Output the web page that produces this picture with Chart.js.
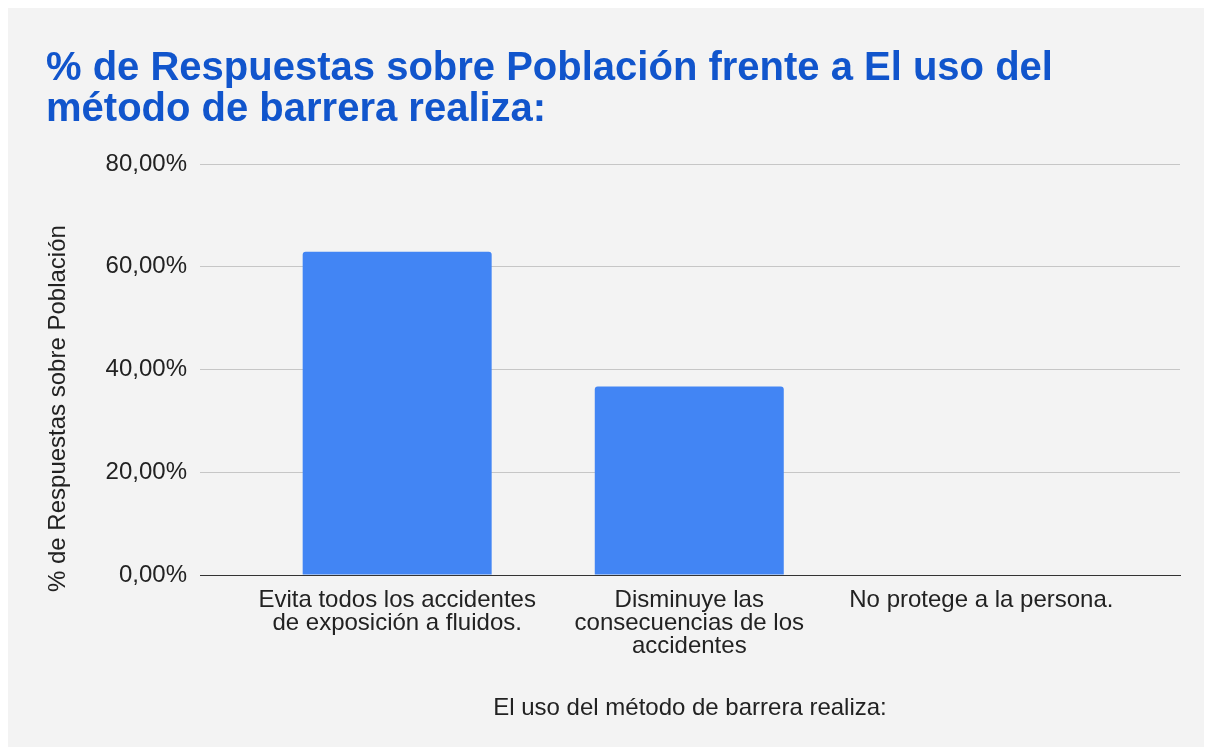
<!DOCTYPE html>
<html>
<head>
<meta charset="utf-8">
<script src="https://cdn.jsdelivr.net/npm/chart.js@4/dist/chart.umd.min.js"></script>
<style>
  html, body { margin: 0; padding: 0; background: #ffffff; }
  #panel { position: absolute; left: 8px; top: 8px; width: 1196px; height: 739px; background: #f3f3f3; }
  #c { position: absolute; left: 0; top: 0; }
</style>
</head>
<body>
<div id="panel"></div>
<canvas id="c" width="1214" height="749"></canvas>
<script>
const titleLines = ["% de Respuestas sobre Población frente a El uso del", "método de barrera realiza:"];
const categories = [
  ["Evita todos los accidentes", "de exposición a fluidos."],
  ["Disminuye las", "consecuencias de los", "accidentes"],
  ["No protege a la persona."]
];
const values = [62.9, 36.7, 0];
const yTicks = [0, 20, 40, 60, 80];
const yAxisTitle = "% de Respuestas sobre Población";
const xAxisTitle = "El uso del método de barrera realiza:";

const FONT = "'Liberation Sans', Arial, sans-serif";
Chart.defaults.font.family = FONT;
Chart.defaults.color = '#222222';

const points = values.map((v, i) => ({ x: i, y: v }));

// y-axis title, drawn rotated beside the value axis (slightly below centre, as in the original)
const yTitlePlugin = {
  id: 'yTitle',
  afterDraw(chart) {
    const ctx = chart.ctx;
    const area = chart.chartArea;
    ctx.save();
    ctx.translate(58, area.bottom + 17);
    ctx.rotate(-Math.PI / 2);
    ctx.font = "24px " + FONT;
    ctx.fillStyle = '#222222';
    ctx.textAlign = 'left';
    ctx.textBaseline = 'middle';
    ctx.fillText(yAxisTitle, 0, 0);
    ctx.restore();
  }
};

new Chart(document.getElementById('c'), {
  type: 'bar',
  data: {
    datasets: [{
      data: points,
      backgroundColor: '#4285f4',
      borderWidth: 0,
      borderRadius: 3,
      categoryPercentage: 1,
      barPercentage: 0.647
    }]
  },
  plugins: [yTitlePlugin],
  options: {
    responsive: false,
    devicePixelRatio: 1,
    animation: false,
    layout: { padding: { left: 46, right: 34, top: 0, bottom: 0 } },
    plugins: {
      legend: { display: false },
      tooltip: { enabled: false },
      title: {
        display: true,
        text: titleLines,
        align: 'start',
        color: '#1155cc',
        font: { size: 40, weight: 'bold', family: FONT, lineHeight: 1.025 },
        padding: { top: 48, bottom: 34 }
      }
    },
    scales: {
      x: {
        type: 'linear',
        bounds: 'data',
        offset: false,
        min: -0.675,
        max: 2.68,
        grid: { display: false },
        border: { display: true, color: '#333333', width: 1 },
        afterBuildTicks: (scale) => { scale.ticks = categories.map((c, i) => ({ value: i })); },
        afterFit: (scale) => { scale.height = 174; },
        ticks: {
          autoSkip: false,
          maxRotation: 0,
          minRotation: 0,
          padding: 6,
          color: '#222222',
          font: { size: 24, lineHeight: 0.96 },
          callback: (value) => categories[value] !== undefined ? categories[value] : ''
        },
        title: {
          display: true,
          text: xAxisTitle,
          color: '#222222',
          font: { size: 24, lineHeight: 1.2 },
          padding: { top: 0, bottom: 26.6 }
        }
      },
      y: {
        min: 0,
        max: 80,
        bounds: 'data',
        border: { display: false },
        grid: {
          drawTicks: false,
          color: (ctx) => (ctx.tick && ctx.tick.value === 0) ? '#333333' : '#c6c6c6',
          lineWidth: 1
        },
        afterBuildTicks: (scale) => { scale.ticks = yTicks.map(v => ({ value: v })); },
        afterFit: (scale) => { scale.width = 154; },
        ticks: {
          padding: 13,
          color: '#222222',
          font: { size: 24 },
          callback: (v) => v.toFixed(2).replace('.', ',') + '%'
        },
        title: { display: false }
      }
    }
  }
});
</script>
</body>
</html>
